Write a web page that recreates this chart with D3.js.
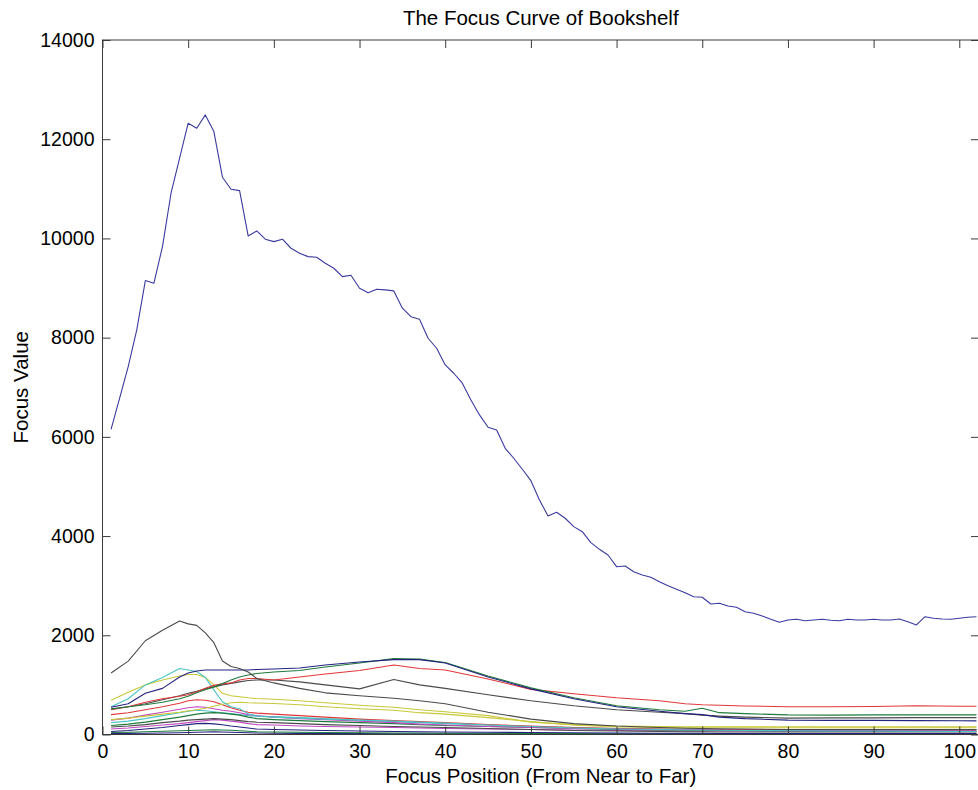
<!DOCTYPE html>
<html>
<head>
<meta charset="utf-8">
<script src="https://cdn.jsdelivr.net/npm/d3@7"></script>
<style>
  html, body { margin: 0; padding: 0; background: #fff; }
  svg { display: block; font-family: "Liberation Sans", Arial, Helvetica, sans-serif; }
</style>
</head>
<body>
<svg id="chart" width="978" height="790"></svg>
<script>
// Focus value of the whole frame at each lens position
const mainPositions = d3.range(1, 103);
const mainValues = [
  6150, 6780, 7415, 8155, 9150, 9097, 9835, 10911, 11617, 12323,
  12222, 12490, 12153, 11234, 10992, 10964, 10050, 10151, 9984, 9936,
  9984, 9802, 9701, 9633, 9621, 9500, 9399, 9230, 9258, 8996,
  8907, 8976, 8962, 8942, 8593, 8423, 8371, 7988, 7786, 7450,
  7282, 7081, 6744, 6442, 6193, 6139, 5770, 5569, 5347, 5117,
  4728, 4405, 4480, 4359, 4190, 4089, 3867, 3733, 3619, 3383,
  3397, 3282, 3216, 3169, 3081, 3000, 2927, 2859, 2778, 2766,
  2631, 2645, 2591, 2564, 2476, 2443, 2389, 2322, 2262, 2308,
  2322, 2294, 2308, 2322, 2302, 2294, 2322, 2308, 2308, 2322,
  2308, 2308, 2329, 2274, 2208, 2375, 2343, 2329, 2322, 2343,
  2363, 2375
];

// Sub-window focus values, sampled at these lens positions
const subPositions = [1,3,5,7,9, 10,11,12,13,14,15,16,17,18, 20,23,26,30,34,37,40, 45,50,55,60,65, 68,70,72,75,80, 85,90,95,100,102];

const grayA    = [1240,1480,1890,2100,2290, 2230,2200,2050,1850,1480,1370,1330,1260,1130, 1040,930,840,780,730,680,620, 450,310,220,170,140, 125,120,115,110,100, 100,100,100,100,100];
const grayB    = [520,560,620,700,780, 830,870,920,960,1000,1030,1060,1090,1100, 1100,1060,1000,920,1110,1000,930, 800,680,580,500,450, 420,390,370,350,330, 335,335,340,340,340];
const blueA    = [550,620,830,930,1160, 1240,1280,1300,1300,1300,1300,1300,1300,1310, 1320,1340,1400,1460,1510,1510,1440, 1160,920,720,560,470, 420,400,350,320,290, 285,285,280,278,275];
const greenA   = [510,560,600,650,720, 770,840,900,960,1030,1100,1160,1200,1230, 1260,1290,1360,1440,1530,1520,1450, 1180,940,740,580,500, 470,530,440,420,395, 390,395,395,395,395];
const redA     = [500,560,650,720,770, 800,860,930,990,1020,1040,1100,1130,1130, 1100,1160,1220,1290,1400,1330,1300, 1120,910,820,740,680, 620,600,590,575,560, 560,565,580,570,570];
const cyanA    = [560,720,1000,1150,1330, 1300,1270,1150,900,660,560,520,420,370, 350,330,310,290,270,250,230, 190,160,130,110,100, 90,90,85,80,75, 70,70,65,60,60];
const yellowA  = [690,850,1000,1100,1180, 1210,1210,1150,1000,830,780,760,740,725, 710,680,640,590,550,500,460, 380,250,200,170,160, 155,155,155,155,155, 155,155,155,155,155];
const yellowB  = [300,330,370,410,450, 480,500,530,570,610,640,650,640,635, 625,600,560,520,490,440,410, 340,260,190,150,140, 135,135,135,135,135, 135,135,135,135,135];
const magentaA = [290,330,390,450,510, 540,560,550,520,490,470,440,400,380, 350,320,300,270,240,210,190, 160,140,120,110,100, 95,95,95,90,85, 85,85,85,85,85];
const redB     = [400,440,500,560,630, 680,700,690,660,600,540,490,450,430, 410,380,350,310,280,260,240, 200,170,140,120,110, 100,100,100,100,95, 95,95,95,95,95];
const greenB   = [180,210,250,300,350, 380,410,430,440,430,410,390,350,320, 300,280,260,240,220,200,180, 160,140,120,100,90, 85,85,80,80,75, 75,75,75,75,75];
const cyanB    = [240,270,320,380,440, 470,490,480,460,440,420,400,380,370, 360,340,320,290,260,240,220, 190,160,140,120,110, 105,105,100,100,100, 100,100,100,100,100];
const blueB    = [60,80,110,140,180, 200,220,225,215,195,170,150,130,110, 100,90,80,70,60,55,50, 45,40,35,30,25, 25,25,20,20,20, 20,20,20,20,20];
const grayC    = [150,170,200,240,270, 290,300,310,320,310,300,280,260,250, 240,220,200,180,160,150,140, 120,100,80,70,60, 55,55,50,50,50, 50,50,50,50,50];
const magentaB = [110,130,160,190,220, 240,260,280,300,290,270,250,220,200, 190,170,160,150,140,130,120, 110,100,90,80,75, 70,70,70,70,65, 65,65,65,65,65];
const greenC   = [40,45,55,65,75, 80,85,90,95,90,85,75,65,55, 50,45,40,35,30,30,25, 25,20,20,15,15, 15,15,15,15,15, 15,15,15,15,15];
const blueC    = [20,22,25,30,35, 40,45,50,55,50,45,40,35,30, 25,22,20,18,15,15,12, 12,10,10,8,8, 8,8,8,8,6, 6,6,6,6,6];

const xTicks = d3.range(0, 101, 10);
const yTicks = d3.range(0, 14001, 2000);

const titleText = "The Focus Curve of Bookshelf";
const xLabelText = "Focus Position (From Near to Far)";
const yLabelText = "Focus Value";

// Line palette
const C = {
  blue: "#3a3aa0",
  navy: "#23237f",
  green: "#1f7a3c",
  red: "#e0383a",
  cyan: "#4cc4c4",
  magenta: "#c048c0",
  yellow: "#c8c83a",
  gray: "#4a4a4a"
};

const subSeries = [
  { v: blueC,    c: C.navy },
  { v: greenC,   c: C.green },
  { v: magentaB, c: C.magenta },
  { v: grayC,    c: C.gray },
  { v: blueB,    c: C.navy },
  { v: cyanB,    c: C.cyan },
  { v: greenB,   c: C.green },
  { v: redB,     c: C.red },
  { v: magentaA, c: C.magenta },
  { v: yellowB,  c: C.yellow },
  { v: yellowA,  c: C.yellow },
  { v: cyanA,    c: C.cyan },
  { v: grayB,    c: C.gray },
  { v: redA,     c: C.red },
  { v: greenA,   c: C.green },
  { v: blueA,    c: C.navy },
  { v: grayA,    c: C.gray }
];

const svg = d3.select("#chart");
const mLeft = 102.5, mRight = 979, mTop = 40, mBottom = 734.5;

const x = d3.scaleLinear().domain([0, 102.3]).range([mLeft, mRight]);
const y = d3.scaleLinear().domain([0, 14000]).range([mBottom, mTop]);

svg.append("defs").append("clipPath").attr("id", "plotClip")
  .append("rect").attr("x", mLeft).attr("y", mTop)
  .attr("width", mRight - mLeft).attr("height", mBottom - mTop);

const plot = svg.append("g").attr("clip-path", "url(#plotClip)");

const line = d3.line().x(d => x(d[0])).y(d => y(d[1]));

subSeries.forEach(s => {
  plot.append("path")
    .datum(subPositions.map((p, i) => [p, s.v[i]]))
    .attr("d", line)
    .attr("fill", "none")
    .attr("stroke", s.c)
    .attr("stroke-width", 1.1)
    .attr("stroke-linejoin", "round");
});

plot.append("path")
  .datum(mainPositions.map((p, i) => [p, mainValues[i]]))
  .attr("d", line)
  .attr("fill", "none")
  .attr("stroke", C.blue)
  .attr("stroke-width", 1.1)
  .attr("stroke-linejoin", "round");

// Axes: box frame with inward ticks on all sides
const tickLen = 8;
const axisColor = "#3a3a3a";

const xBottom = d3.axisBottom(x).tickValues(xTicks).tickSize(-tickLen).tickPadding(10)
  .tickFormat(d3.format("d"));
const xTop = d3.axisTop(x).tickValues(xTicks).tickSize(-tickLen).tickFormat("");
const yLeft = d3.axisLeft(y).tickValues(yTicks).tickSize(-tickLen).tickPadding(8)
  .tickFormat(d3.format("d"));
const yRight = d3.axisRight(y).tickValues(yTicks).tickSize(-tickLen).tickFormat("");

function styleAxis(g) {
  g.select(".domain").remove();
  g.selectAll(".tick line").attr("stroke", axisColor);
  g.selectAll(".tick text").attr("fill", "#000")
    .style("font-family", "'Liberation Sans', Arial, sans-serif")
    .style("font-size", "19.5px");
}

svg.append("g").attr("transform", `translate(0,${mBottom})`).call(xBottom).call(styleAxis);
svg.append("g").attr("transform", `translate(0,${mTop})`).call(xTop).call(styleAxis);
svg.append("g").attr("transform", `translate(${mLeft},0)`).call(yLeft).call(styleAxis);
svg.append("g").attr("transform", `translate(${mRight},0)`).call(yRight).call(styleAxis);

svg.append("rect")
  .attr("x", mLeft).attr("y", mTop)
  .attr("width", mRight - mLeft).attr("height", mBottom - mTop)
  .attr("fill", "none").attr("stroke", axisColor).attr("stroke-width", 1);

// Titles
svg.append("text")
  .attr("x", (mLeft + mRight) / 2).attr("y", 25)
  .attr("text-anchor", "middle")
  .style("font-size", "20.5px")
  .text(titleText);

svg.append("text")
  .attr("x", (mLeft + mRight) / 2).attr("y", 783)
  .attr("text-anchor", "middle")
  .style("font-size", "20.5px")
  .text(xLabelText);

svg.append("text")
  .attr("transform", `translate(28,${(mTop + mBottom) / 2}) rotate(-90)`)
  .attr("text-anchor", "middle")
  .style("font-size", "20.5px")
  .text(yLabelText);
</script>
</body>
</html>
